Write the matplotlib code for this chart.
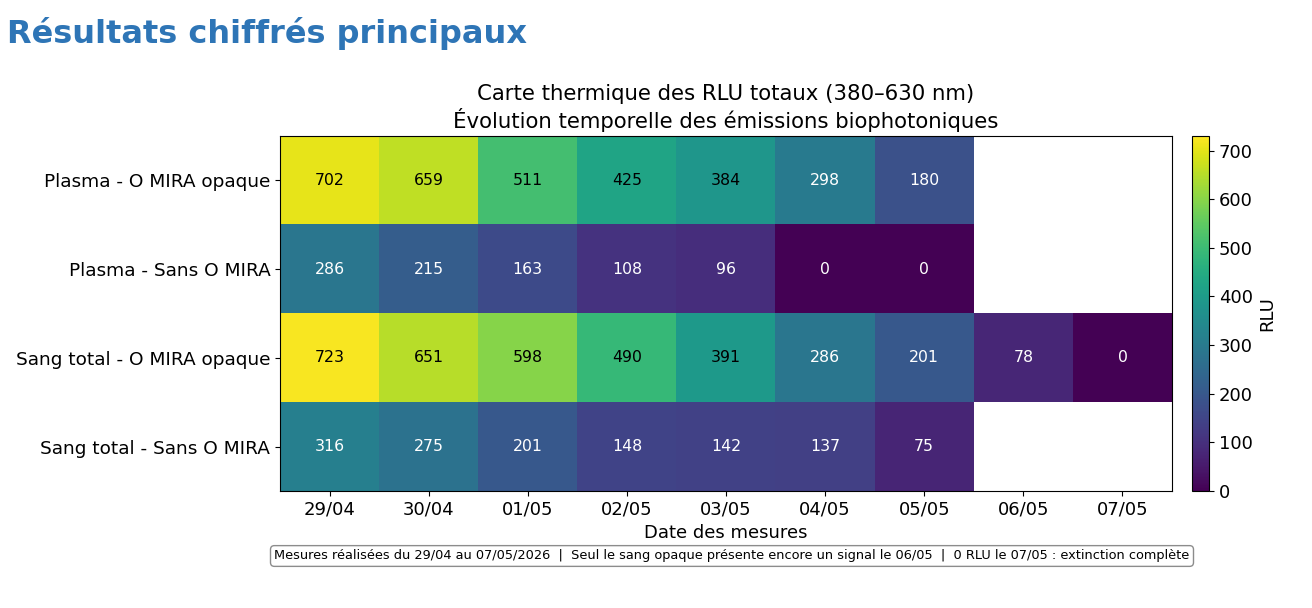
import numpy as np
import matplotlib
matplotlib.use("Agg")
import matplotlib.pyplot as plt

rows = ["Plasma - O MIRA opaque", "Plasma - Sans O MIRA",
        "Sang total - O MIRA opaque", "Sang total - Sans O MIRA"]
dates = ["29/04", "30/04", "01/05", "02/05", "03/05", "04/05", "05/05", "06/05", "07/05"]
nan = np.nan
plasma_opaque = [702, 659, 511, 425, 384, 298, 180, nan, nan]
plasma_sans = [286, 215, 163, 108, 96, 0, 0, nan, nan]
sang_opaque = [723, 651, 598, 490, 391, 286, 201, 78, 0]
sang_sans = [316, 275, 201, 148, 142, 137, 75, nan, nan]
color_max = 730

data = np.array([plasma_opaque, plasma_sans, sang_opaque, sang_sans], dtype=float)

fig = plt.figure(figsize=(13.12, 6.08), dpi=100)
ax = fig.add_axes([280/1312, 1 - 491/608, (1172-280)/1312, (491-136)/608])
cax = fig.add_axes([1192/1312, 1 - 491/608, 17/1312, (491-136)/608])

masked = np.ma.masked_invalid(data)
im = ax.imshow(masked, cmap="viridis", vmin=0, vmax=color_max, aspect="auto")
for i in range(data.shape[0]):
    for j in range(data.shape[1]):
        v = data[i, j]
        if np.isnan(v):
            continue
        color = "black" if v > color_max / 2 else "white"
        ax.text(j, i, f"{int(v)}", ha="center", va="center", color=color, fontsize=11.3)

ax.set_xticks(range(len(dates)))
ax.set_xticklabels(dates, fontsize=13)
ax.set_yticks(range(len(rows)))
ax.set_yticklabels(rows, fontsize=13.3)
ax.set_xlabel("Date des mesures", fontsize=13, labelpad=4)
ax.set_title("Carte thermique des RLU totaux (380–630 nm)\nÉvolution temporelle des émissions biophotoniques",
             fontsize=15.3, pad=6)

cb = fig.colorbar(im, cax=cax)
cb.set_label("RLU", fontsize=13)
cb.ax.tick_params(labelsize=13)

fig.text(7/1312, 1 - 34/608, "Résultats chiffrés principaux", fontsize=23,
         fontweight="bold", color="#2e75b6", ha="left", va="center")

fig.text(732/1312, 1 - 556/608,
         "Mesures réalisées du 29/04 au 07/05/2026  |  Seul le sang opaque présente encore un signal le 06/05  |  0 RLU le 07/05 : extinction complète",
         fontsize=9.3, ha="center", va="center",
         bbox=dict(boxstyle="round,pad=0.3", fc="white", ec="gray", alpha=0.9))

fig.savefig("out.png", dpi=100)
